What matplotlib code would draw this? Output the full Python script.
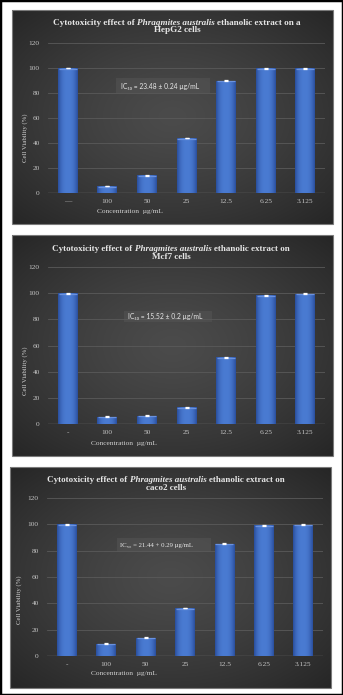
import numpy as np
import matplotlib
matplotlib.use('Agg')
import matplotlib.pyplot as plt
from matplotlib.patches import Rectangle
from matplotlib.colors import to_rgb

W, H = 343, 695

# ---------------- data ----------------
cats_hepg2 = ['—', '100', '50', '25', '12.5', '6.25', '3.125']
cats_mcf7 = ['-', '100', '50', '25', '12.5', '6.25', '3.125']
cats_caco2 = ['-', '100', '50', '25', '12.5', '6.25', '3.125']

hepg2_vals = [100.0, 5.6, 14.2, 44.1, 89.8, 99.7, 99.8]
mcf7_vals = [100.0, 5.6, 6.4, 12.7, 51.1, 98.5, 99.7]
caco2_vals = [100.0, 9.4, 14.0, 36.5, 85.3, 99.2, 99.7]

hepg2_err = [0.3, 0.3, 0.3, 0.3, 0.3, 0.3, 0.3]
mcf7_err = [0.3, 0.3, 0.3, 0.3, 0.3, 0.3, 0.3]
caco2_err = [0.3, 0.3, 0.3, 0.3, 0.3, 0.3, 0.3]

yticks = [0, 20, 40, 60, 80, 100, 120]

title_ends = ['ethanolic extract on a', 'ethanolic extract on', 'ethanolic extract on']
title_line2 = ['HepG2 cells', 'Mcf7 cells', 'caco2 cells']
ic50_texts = ['IC\u2085\u2080 = 23.48 \u00b1 0.24 \u00b5g/mL',
              'IC\u2085\u2080 = 15.52 \u00b1 0.2 \u00b5g/mL',
              'IC\u2085\u2080 = 21.44 + 0.29 \u00b5g/mL']
xlabel_text = 'Concentration  \u00b5g/mL'
ylabel_text = 'Cell Viability (%)'

SERIF = ['Liberation Serif', 'DejaVu Serif']
SANS = ['Lato', 'DejaVu Sans']

# ---------------- layout (pixels) ----------------
panels = [
    dict(bg=(12, 10, 333, 224), ax=(48, 43, 325, 193), cx=177, t1=23, t2=30, tw=246,
         box=(116, 78, 210, 93), icx=121, icy=86.5, icfont=SANS, xl=(130, 212), yl=(25, 138)),
    dict(bg=(12, 235, 333, 456), ax=(48, 267, 325, 424), cx=171, t1=249, t2=257, tw=238,
         box=(124, 311, 212, 322), icx=128, icy=316, icfont=SANS, xl=(124, 444), yl=(25, 371)),
    dict(bg=(10, 467, 331, 688), ax=(47, 498, 323, 656), cx=166, t1=480, t2=488, tw=238,
         box=(117, 538, 211, 552), icx=120, icy=545, icfont=SERIF, xl=(124, 674), yl=(19, 600)),
]
datasets = [(cats_hepg2, hepg2_vals, hepg2_err),
            (cats_mcf7, mcf7_vals, mcf7_err),
            (cats_caco2, caco2_vals, caco2_err)]


def frac(x0, y0, x1, y1):
    return [x0 / W, 1 - y1 / H, (x1 - x0) / W, (y1 - y0) / H]


def fx(x):
    return x / W


def fy(y):
    return 1 - y / H


fig = plt.figure(figsize=(W / 100, H / 100), dpi=100, facecolor='white')
renderer = fig.canvas.get_renderer()

# radial gradient for panel backgrounds
n = 200
gx, gy = np.meshgrid(np.linspace(-1, 1, n), np.linspace(-1, 1, n))
r = np.clip(np.sqrt(gx ** 2 + gy ** 2) / np.sqrt(2), 0, 1)
c_in = np.array(to_rgb('#4b4b4b'))
c_out = np.array(to_rgb('#262626'))
bg_img = c_in[None, None, :] * (1 - r[..., None] ** 1.3) + c_out[None, None, :] * (r[..., None] ** 1.3)

# horizontal gradient for bars
m = 40
t = np.abs(np.linspace(-1, 1, m))
b_in = np.array(to_rgb('#4a7bd2'))
b_out = np.array(to_rgb('#2a4f9e'))
bar_img = (b_in[None, :] * (1 - t[:, None] ** 2.5) + b_out[None, :] * (t[:, None] ** 2.5))[None, :, :]

TKW = dict(family=SERIF, weight='bold')
TITLE_COLOR = '#e6e6e6'


def measure(txt, fs, **kw):
    tt = fig.text(0.5, 0.5, txt, fontsize=fs, **kw)
    w = tt.get_window_extent(renderer=renderer).width
    tt.remove()
    return w


def line_width(parts, fs):
    sp = measure('a a', fs, family=SERIF, weight='bold') - measure('aa', fs, family=SERIF, weight='bold')
    widths = [measure(p, fs, family=SERIF, weight='bold', style=s) for p, s in parts]
    return widths, sp, sum(widths) + sp * (len(parts) - 1)


def title_block(parts, line2, cx, cy1, cy2, target_w):
    fs = 5.6
    for _ in range(4):
        widths, sp, total = line_width(parts, fs)
        fs = fs * target_w / total
    widths, sp, total = line_width(parts, fs)
    x = cx - total / 2
    for (p, s), w in zip(parts, widths):
        fig.text(fx(x), fy(cy1 + 2.2), p, fontsize=fs, style=s, ha='left', va='baseline',
                 color=TITLE_COLOR, **TKW)
        x += w + sp
    fig.text(fx(cx), fy(cy2 + 2.2), line2, fontsize=fs, ha='center', va='baseline',
             color=TITLE_COLOR, **TKW)


for i, (P, (cats, vals, errs)) in enumerate(zip(panels, datasets)):
    bga = fig.add_axes(frac(*P['bg']), zorder=0)
    bga.imshow(bg_img, extent=[0, 1, 0, 1], aspect='auto', interpolation='bilinear')
    bga.set_xlim(0, 1)
    bga.set_ylim(0, 1)
    bga.axis('off')
    bga.add_patch(Rectangle((0, 0), 1, 1, transform=bga.transAxes, fill=False,
                            edgecolor='#7a7a7a', lw=0.8, clip_on=False))

    bx0, by0, bx1, by1 = P['box']
    fig.patches.append(Rectangle((fx(bx0), fy(by1)), (bx1 - bx0) / W, (by1 - by0) / H,
                                 transform=fig.transFigure, facecolor='#555555', alpha=0.55,
                                 edgecolor='none', zorder=1))

    ax = fig.add_axes(frac(*P['ax']), zorder=2)
    ax.patch.set_alpha(0)
    x = np.arange(len(cats))
    bars = ax.bar(x, vals, width=0.5, color='#3f6fc6', zorder=3)
    for b in bars:
        x0 = b.get_x()
        w = b.get_width()
        h = b.get_height()
        im = ax.imshow(bar_img, extent=[x0, x0 + w, 0, h], aspect='auto', zorder=3.1,
                       interpolation='bilinear')
        im.set_clip_path(b)
        ax.plot([x0 + 0.02, x0 + w - 0.02], [h - 0.5, h - 0.5], color='#6b92de', lw=0.9,
                zorder=3.2, solid_capstyle='butt')
    ax.errorbar(x, vals, yerr=errs, fmt='none', ecolor='white', elinewidth=0.6,
                capsize=1.6, capthick=0.9, zorder=4)
    ax.set_xlim(-0.5, len(cats) - 0.5)
    ax.set_ylim(0, 120)
    ax.set_yticks(yticks)
    ax.set_xticks(x)
    ax.set_xticklabels(cats)
    for s in ax.spines.values():
        s.set_visible(False)
    ax.grid(axis='y', color='#5a5a5a', lw=0.6, zorder=1)
    ax.set_axisbelow(True)
    ax.axhline(0, color='#8c8c8c', lw=0.9, zorder=2)
    ax.tick_params(axis='both', length=0, labelsize=5.3, labelcolor='#c4c4c4')
    ax.tick_params(axis='y', pad=6)
    ax.tick_params(axis='x', pad=4.5)
    for lab in ax.get_xticklabels() + ax.get_yticklabels():
        lab.set_family(SERIF)

    title_block([('Cytotoxicity effect of', 'normal'), ('Phragmites australis', 'italic'),
                 (title_ends[i], 'normal')], title_line2[i], P['cx'], P['t1'], P['t2'], P['tw'])

    fig.text(fx(P['icx']), fy(P['icy']), ic50_texts[i], fontsize=4.9,
             family=P['icfont'], color='#e8e8e8', ha='left', va='center', zorder=5)

    fig.text(fx(P['xl'][0]), fy(P['xl'][1]), xlabel_text, fontsize=5.3, family=SERIF,
             color='#d0d0d0', ha='center', va='center')
    fig.text(fx(P['yl'][0]), fy(P['yl'][1]), ylabel_text, fontsize=4.9, family=SERIF,
             color='#d0d0d0', ha='center', va='center', rotation=90)

fig.patches.append(Rectangle((0, 0), 1, 1, transform=fig.transFigure, fill=False,
                             edgecolor='black', lw=2.5, zorder=10))

fig.savefig('out.png', dpi=100, facecolor='white')
